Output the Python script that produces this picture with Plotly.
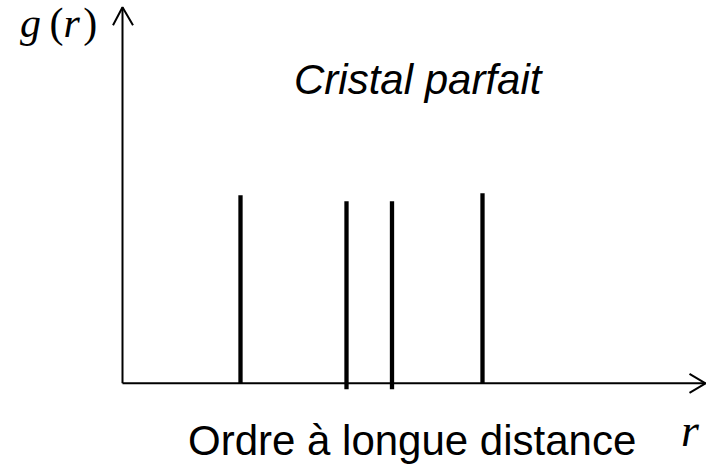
import plotly.graph_objects as go

# Data (arbitrary units)
peak_r = [1.18, 2.24, 2.695, 3.60]
peak_g = [1.88, 1.82, 1.82, 1.90]
peak_base = [0.0, -0.06, -0.06, 0.0]

x_range = [-1.225, 5.835]
y_range = [-0.837, 3.833]
x_axis_end = 5.83
y_axis_end = 3.76

title_text = "<i>Cristal parfait</i>"
xlabel_text = "Ordre à longue distance"
fig = go.Figure()

# peaks
px, py = [], []
for r, g, b in zip(peak_r, peak_g, peak_base):
    px += [r, r, None]
    py += [b, g, None]
fig.add_trace(go.Scatter(x=px, y=py, mode="lines",
                         line=dict(color="black", width=4.3), hoverinfo="skip"))

# axes with open arrowheads
ax_x = [0, x_axis_end, None, x_axis_end - 0.16, x_axis_end, x_axis_end - 0.16]
ax_y = [0, 0, None, 0.095, 0, -0.095]
fig.add_trace(go.Scatter(x=ax_x, y=ax_y, mode="lines",
                         line=dict(color="black", width=2), hoverinfo="skip"))
ay_x = [0, 0, None, -0.095, 0, 0.105]
ay_y = [0, y_axis_end, None, y_axis_end - 0.18, y_axis_end, y_axis_end - 0.18]
fig.add_trace(go.Scatter(x=ay_x, y=ay_y, mode="lines",
                         line=dict(color="black", width=2), hoverinfo="skip"))

fig.add_annotation(x=2.965, y=3.04, xref="x", yref="y", text=title_text,
                   showarrow=False, font=dict(family="Liberation Sans", size=42, color="black"))
fig.add_annotation(x=2.895, y=-0.575, xref="x", yref="y", text=xlabel_text,
                   showarrow=False, font=dict(family="Liberation Sans", size=42, color="black"))
fig.add_annotation(x=5.675, y=-0.47, xref="x", yref="y", text="<i>r</i>",
                   showarrow=False, font=dict(family="Liberation Serif", size=46, color="black"))
fig.add_annotation(x=-0.64, y=3.6, xref="x", yref="y",
                   text="<i>g</i>\u2009(<i>r</i>\u200a)",
                   showarrow=False, font=dict(family="Liberation Serif", size=42, color="black"))

fig.update_layout(width=706, height=467, margin=dict(l=0, r=0, t=0, b=0),
                  paper_bgcolor="white", plot_bgcolor="white", showlegend=False,
                  xaxis=dict(range=x_range, visible=False, fixedrange=True),
                  yaxis=dict(range=y_range, visible=False, fixedrange=True))
fig.write_html("out.html", config={"displayModeBar": False},
               post_script="document.body.style.margin='0';document.body.style.overflow='hidden';")
